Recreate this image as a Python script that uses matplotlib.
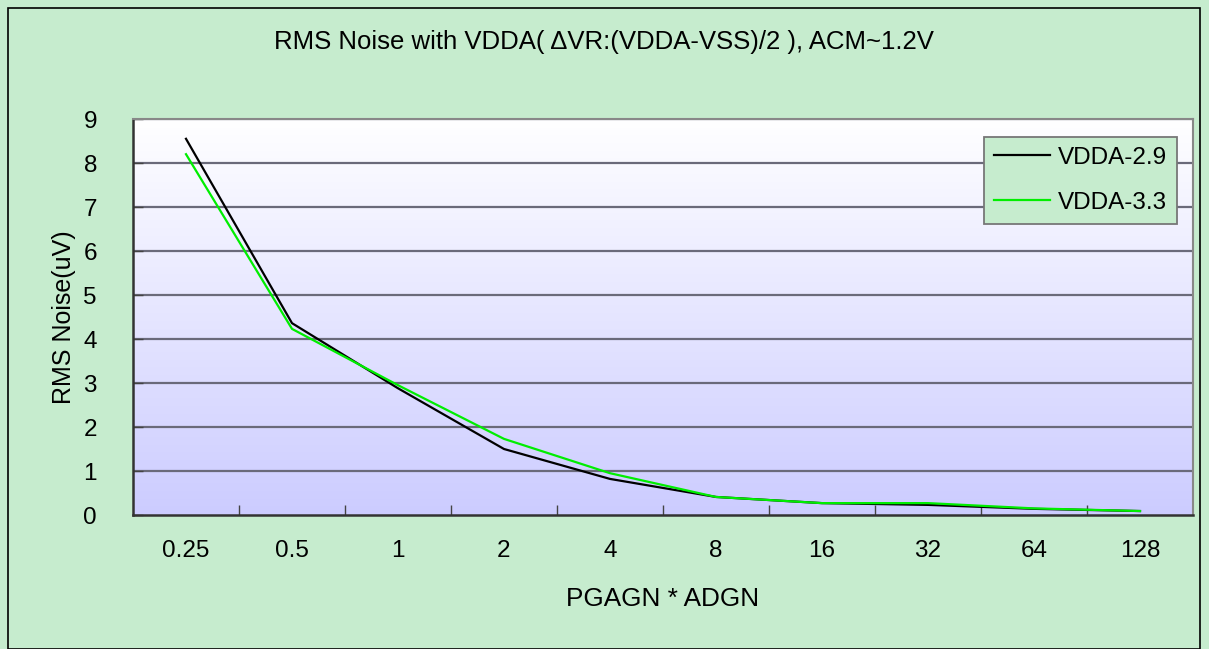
import numpy as np
import matplotlib.pyplot as plt
from matplotlib.patches import Rectangle

plt.rcParams['font.family'] = ['Liberation Sans', 'DejaVu Sans']

# chart data
gains = ["0.25", "0.5", "1", "2", "4", "8", "16", "32", "64", "128"]
vdda_29 = [8.55, 4.36, 2.88, 1.50, 0.82, 0.41, 0.27, 0.23, 0.14, 0.09]
vdda_33 = [8.20, 4.23, 2.95, 1.73, 0.95, 0.41, 0.27, 0.27, 0.15, 0.09]
yticks = list(range(10))

TITLE = "RMS Noise with VDDA( \u0394VR:(VDDA-VSS)/2 ), ACM~1.2V"
BG = "#c6ecce"
W, H = 1209, 649
FS = 17.5

fig = plt.figure(figsize=(W / 100, H / 100), dpi=100, facecolor=BG)
# outer chart frame
fig.patches.append(Rectangle((8 / W, 0), (1200 - 8) / W, (H - 8) / H, transform=fig.transFigure,
                             fill=False, edgecolor="black", linewidth=1.2))

left, right, top, bottom = 133, 1193, 119, 515
ax = fig.add_axes([left / W, 1 - bottom / H, (right - left) / W, (bottom - top) / H])

x = np.arange(len(gains))

# gradient background: white at top to lavender at bottom
grad = np.linspace(0, 1, 256).reshape(-1, 1)
c_top = np.array([1.0, 1.0, 1.0])
c_bot = np.array([0xcc, 0xcc, 0xff]) / 255
img = c_top[None, None, :] * (1 - grad[..., None]) + c_bot[None, None, :] * grad[..., None]
ax.imshow(img, extent=(-0.5, len(gains) - 0.5, 0, 9), aspect="auto", zorder=0, origin="upper")
ax.set_xlim(-0.5, len(gains) - 0.5)
ax.set_ylim(0, 9)

for yv in yticks[1:]:
    ax.axhline(yv, color="#6a6a7a", linewidth=1.6, zorder=1)

ax.plot(x, vdda_29, color="black", linewidth=1.6, label="VDDA-2.9", zorder=3)
ax.plot(x, vdda_33, color="#00ee00", linewidth=1.6, label="VDDA-3.3", zorder=3)

ax.set_xticks(x)
ax.set_xticklabels(gains)
ax.set_xticks(np.arange(len(gains) - 1) + 0.5, minor=True)
ax.tick_params(axis="x", which="major", length=0, pad=18, labelsize=FS)
ax.tick_params(axis="x", which="minor", direction="in", length=7, width=1, color="#444444")
ax.set_yticks(yticks)
ax.tick_params(axis="y", direction="in", length=7, width=1, color="#444444", pad=26, labelsize=FS)

for side in ["top", "right"]:
    ax.spines[side].set_color("#888888")
    ax.spines[side].set_linewidth(1.5)
for side in ["left", "bottom"]:
    ax.spines[side].set_color("#333333")
    ax.spines[side].set_linewidth(1.8)

ax.set_xlabel("PGAGN * ADGN", fontsize=18.8, labelpad=18)
ax.set_ylabel("RMS Noise(uV)", fontsize=18, labelpad=5)
fig.text(604 / W, 1 - 42 / H, TITLE, ha="center", va="center", fontsize=18.5)

leg = ax.legend(loc="upper right", bbox_to_anchor=((1177 - left) / (right - left), 1 - (137 - top) / (bottom - top)),
                fontsize=FS, frameon=True, fancybox=False, facecolor=BG, edgecolor="#777777",
                framealpha=1, handlelength=2.3, borderpad=0.4, labelspacing=0.95, handletextpad=0.35,
                borderaxespad=0)
leg.get_frame().set_linewidth(1.3)
leg.set_zorder(5)

fig.savefig("out.png", dpi=100, facecolor=BG)
